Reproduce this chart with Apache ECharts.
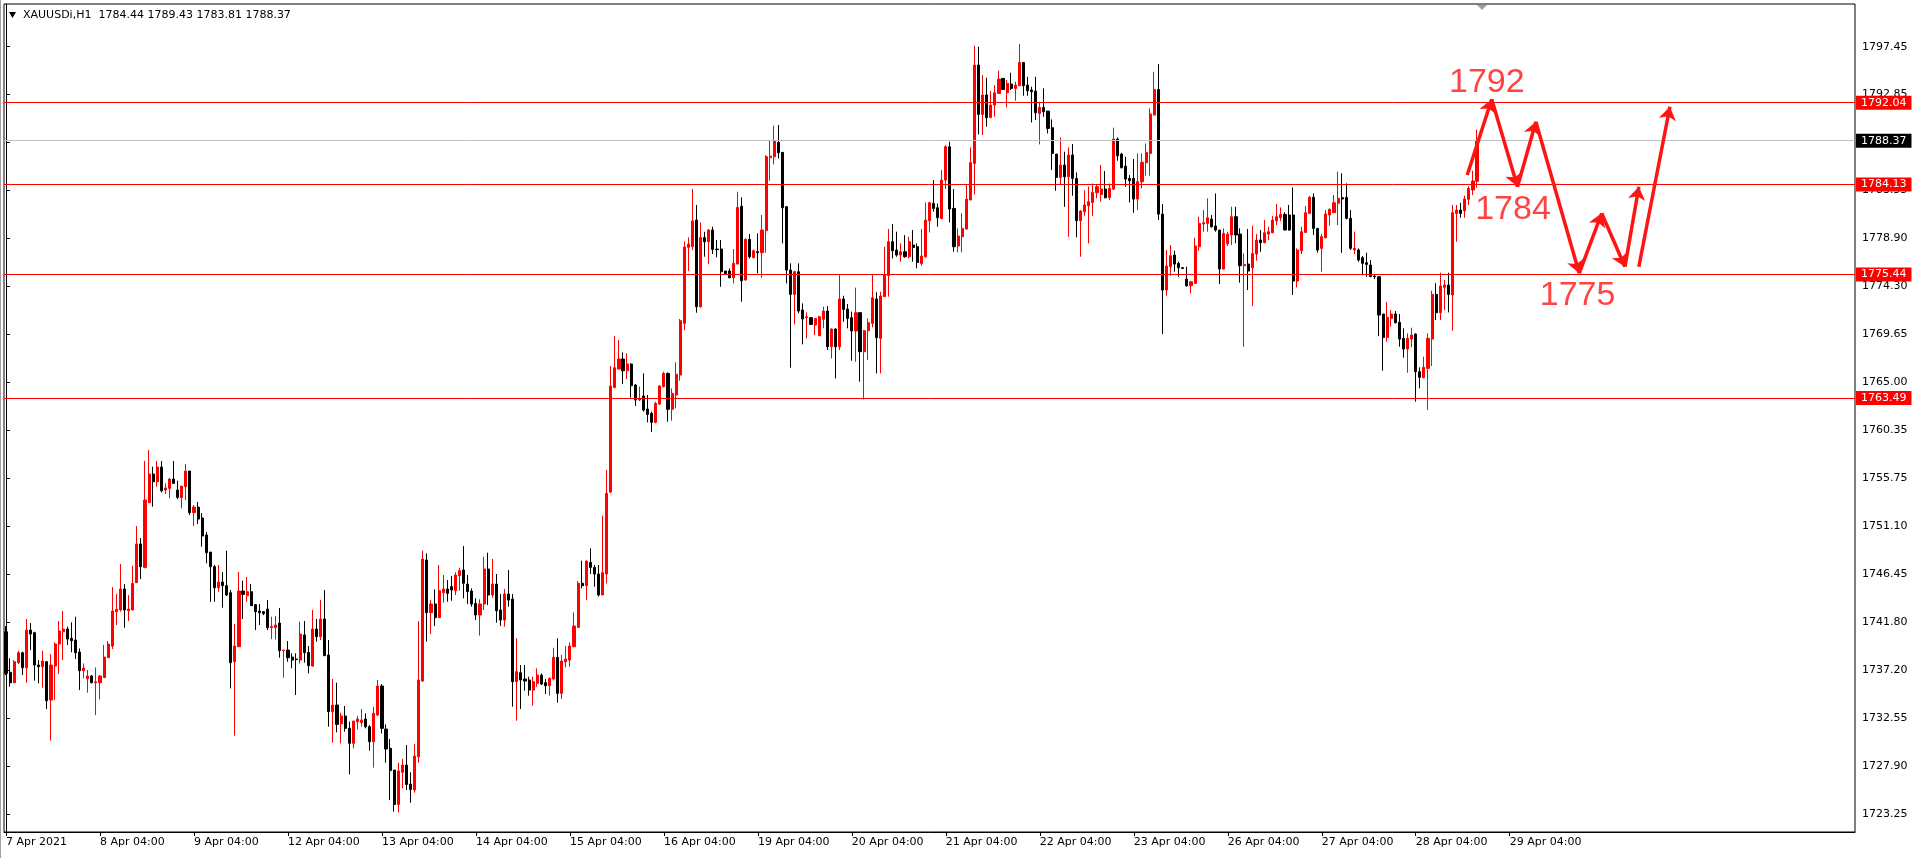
<!DOCTYPE html>
<html><head><meta charset="utf-8">
<script src="https://cdn.jsdelivr.net/npm/echarts@6/dist/echarts.min.js"></script>
<style>html,body{margin:0;padding:0;background:#fff;overflow:hidden}#c{width:1920px;height:858px}</style>
</head><body><div id="c"></div>
<script>
// ---- DATA ----
const symbolTitle = 'XAUUSDi,H1';
const tradingDays = ['7 Apr','8 Apr','9 Apr','12 Apr','13 Apr','14 Apr','15 Apr','16 Apr','19 Apr','20 Apr','21 Apr','22 Apr','23 Apr','26 Apr','27 Apr','28 Apr','29 Apr','30 Apr','3 May','4 May'];
const xTickLabels = ['7 Apr 2021','8 Apr 04:00','9 Apr 04:00','12 Apr 04:00','13 Apr 04:00','14 Apr 04:00','15 Apr 04:00','16 Apr 04:00','19 Apr 04:00','20 Apr 04:00','21 Apr 04:00','22 Apr 04:00','23 Apr 04:00','26 Apr 04:00','27 Apr 04:00','28 Apr 04:00','29 Apr 04:00'];
const yTickLabels = [1723.25,1727.90,1732.55,1737.20,1741.80,1746.45,1751.10,1755.75,1760.35,1765.00,1769.65,1774.30,1778.90,1783.55,1788.20,1792.85,1797.45];
const levelLines = [1792.04,1784.13,1775.44,1763.49];
const bidPrice = 1788.37;
const futureSlots = 92;
// [open, close, low, high]
const candlesA = [
[1740.90,1736.87,1736.71,1741.45],[1736.97,1735.97,1735.59,1738.33],[1735.97,1738.00,1735.97,1738.16],[1737.91,1738.87,1737.78,1739.07],
[1738.87,1737.42,1736.71,1738.97],[1737.42,1741.06,1735.97,1742.13],[1741.06,1740.68,1739.13,1741.74],[1740.81,1737.68,1736.17,1740.90],
[1737.68,1737.52,1735.91,1738.16],[1737.52,1738.07,1735.49,1739.07],[1738.00,1734.23,1733.43,1738.07],[1734.30,1737.68,1730.37,1738.74],
[1737.58,1739.71,1734.30,1739.87],[1739.71,1740.97,1736.81,1741.93],[1740.90,1741.16,1738.16,1742.90],[1741.16,1740.19,1739.61,1741.39],
[1740.26,1740.03,1738.91,1741.81],[1740.10,1738.87,1738.26,1742.35],[1738.94,1737.13,1735.26,1739.29],[1737.13,1737.39,1736.39,1737.84],
[1736.36,1736.62,1735.01,1737.20],[1736.62,1735.97,1735.91,1736.71],[1735.97,1736.07,1732.85,1737.45],[1735.97,1736.62,1734.36,1736.71],
[1736.46,1738.45,1736.46,1739.61],[1738.39,1739.71,1738.39,1740.00],[1739.52,1742.90,1739.23,1745.22],[1742.84,1743.06,1741.55,1744.54],
[1743.00,1745.03,1742.84,1747.44],[1745.03,1743.00,1741.29,1745.51],[1742.93,1743.09,1741.93,1744.45],[1743.00,1745.57,1743.00,1747.28],
[1745.64,1749.38,1745.64,1751.12],[1749.38,1747.19,1746.00,1749.96],[1747.12,1753.63,1747.03,1757.40],[1753.37,1756.14,1753.37,1758.46],
[1756.14,1755.40,1752.99,1756.85],[1755.40,1756.82,1754.92,1757.40],[1756.82,1754.53,1754.37,1757.40],[1754.60,1754.79,1754.21,1755.24],
[1754.76,1755.66,1753.79,1755.76],[1755.66,1755.24,1755.24,1757.40],[1754.60,1753.89,1753.73,1755.50],[1753.86,1754.98,1752.83,1754.98],
[1754.92,1756.43,1753.63,1757.11],[1756.43,1752.41,1752.18,1756.43],[1752.41,1752.95,1751.12,1753.15],[1752.95,1751.79,1751.31,1753.44],
[1751.89,1750.15,1749.12,1752.37],[1750.25,1748.54,1747.51,1750.54],[1748.60,1747.19,1743.80,1748.60],[1747.19,1745.16,1743.80,1747.35],
[1745.16,1745.70,1744.77,1747.35],[1745.70,1745.35,1743.22,1746.67],[1745.35,1744.45,1744.35,1748.73],[1744.67,1737.91,1735.42,1744.93],
[1738.00,1739.52,1730.85,1741.65],[1739.45,1744.83,1739.45,1746.67],[1744.83,1744.51,1742.13,1745.83],[1744.38,1744.77,1743.80,1746.19],
[1744.77,1743.42,1743.42,1745.51],[1743.51,1742.84,1741.06,1743.58],[1742.90,1742.74,1741.55,1743.58],[1742.84,1742.67,1742.51,1742.84],
[1743.09,1741.29,1741.06,1743.96],[1741.29,1741.39,1740.19,1742.35],[1741.29,1741.55,1740.16,1742.42],[1741.74,1739.07,1738.39,1743.19],
[1739.07,1739.13,1736.46,1739.13],[1739.13,1738.39,1738.00,1740.00],[1738.45,1738.16,1737.36,1738.81],[1738.26,1738.20,1734.78,1738.81]
];
const candlesB = [
[1738.16,1740.68,1737.84,1741.87],[1740.58,1738.87,1737.91,1741.93],[1738.90,1737.62,1736.87,1739.52],[1737.58,1741.16,1737.52,1743.00],
[1741.16,1740.42,1739.94,1742.13],[1740.42,1742.13,1740.10,1743.96],[1742.13,1738.58,1738.58,1744.93],[1738.65,1733.17,1731.72,1740.10],
[1733.17,1733.81,1730.17,1736.33],[1733.81,1731.94,1731.17,1735.97],[1732.01,1732.75,1730.11,1733.07],[1732.75,1731.56,1731.23,1733.72],
[1731.56,1730.11,1727.11,1732.20],[1730.11,1732.27,1729.63,1732.27],[1732.20,1732.46,1731.46,1732.78],[1732.11,1732.36,1731.72,1733.43],
[1732.46,1731.72,1731.56,1733.01],[1731.72,1730.27,1729.40,1731.88],[1730.27,1733.01,1727.76,1733.65],[1732.85,1735.65,1732.75,1736.23],
[1735.65,1731.56,1731.07,1735.84],[1731.49,1729.56,1728.24,1731.94],[1729.63,1727.47,1724.63,1730.53],[1727.53,1724.21,1723.50,1727.53],
[1724.21,1727.44,1723.41,1728.24],[1727.31,1728.01,1725.76,1728.59],[1728.01,1726.14,1725.60,1729.95],[1726.18,1725.66,1724.37,1727.31],
[1725.60,1728.88,1725.34,1730.04],[1728.82,1736.23,1728.24,1741.93],[1736.13,1747.93,1736.07,1748.73],[1747.83,1742.74,1739.94,1748.47],
[1742.74,1743.58,1740.68,1743.96],[1743.58,1742.26,1741.45,1744.99],[1742.26,1744.87,1742.26,1747.35],[1744.67,1745.03,1743.71,1746.38],
[1745.03,1744.61,1743.80,1745.90],[1745.26,1744.93,1743.90,1746.28],[1744.87,1746.38,1744.45,1746.64],[1746.32,1746.80,1744.87,1747.09],
[1746.86,1745.58,1744.13,1749.18],[1745.51,1744.77,1743.58,1746.38],[1744.83,1743.58,1743.32,1745.09],[1743.64,1742.51,1742.03,1744.13],
[1742.51,1743.58,1740.52,1744.03],[1743.58,1746.96,1743.00,1748.15],[1746.96,1744.45,1743.48,1748.54],[1744.45,1745.51,1744.19,1747.93],
[1745.51,1742.93,1741.77,1746.48],[1743.00,1742.03,1741.45,1744.54],[1742.03,1744.54,1741.39,1745.03],[1744.54,1743.96,1743.32,1746.86],
[1744.06,1736.07,1733.65,1744.54],[1736.07,1737.04,1732.30,1740.26],[1736.94,1736.23,1733.43,1737.68],[1736.33,1736.13,1735.20,1737.68],
[1736.23,1735.26,1734.72,1736.55],[1735.26,1736.07,1733.75,1736.55],[1735.91,1736.71,1735.59,1737.36],[1736.71,1735.84,1735.75,1736.87],
[1735.97,1735.68,1734.88,1736.33],[1735.68,1736.39,1734.72,1736.49],[1736.33,1738.42,1736.17,1739.35],[1738.42,1734.94,1734.04,1740.26],
[1734.94,1738.07,1734.39,1738.65],[1738.00,1738.26,1737.46,1739.52],[1738.16,1739.52,1737.52,1739.87],[1739.45,1741.45,1739.45,1742.77],
[1741.32,1745.58,1741.32,1745.80],[1745.58,1745.35,1745.09,1747.77],[1745.35,1747.73,1743.96,1747.77],[1747.60,1747.12,1746.48,1748.96],
[1747.12,1746.48,1745.25,1747.35],[1746.48,1744.45,1744.29,1747.35],[1744.45,1746.61,1744.45,1752.12],[1746.48,1754.27,1745.57,1756.53]
];
const candlesC = [
[1754.40,1764.65,1754.30,1766.58],[1764.52,1766.42,1764.42,1769.48],[1766.29,1767.26,1766.26,1769.09],[1767.26,1766.13,1764.84,1767.90],
[1766.13,1766.78,1765.33,1767.81],[1766.78,1764.68,1763.52,1766.84],[1764.75,1763.30,1762.72,1764.84],[1763.30,1763.46,1763.20,1764.59],
[1763.68,1762.33,1762.17,1765.87],[1762.43,1761.91,1761.14,1763.78],[1762.01,1761.14,1760.20,1762.17],[1761.14,1762.97,1761.04,1763.13],
[1762.91,1764.65,1762.81,1764.75],[1764.59,1765.87,1764.52,1766.03],[1765.87,1762.40,1761.20,1765.97],[1762.40,1763.94,1761.30,1764.42],
[1763.78,1765.78,1762.49,1766.94],[1765.71,1770.97,1765.17,1771.13],[1770.71,1778.09,1770.06,1778.60],[1778.06,1778.38,1775.77,1779.02],
[1778.12,1780.60,1777.80,1783.69],[1780.70,1772.32,1771.74,1782.15],[1772.32,1779.00,1772.22,1780.47],[1779.00,1778.60,1777.15,1779.57],
[1778.60,1779.73,1776.44,1779.83],[1779.73,1777.86,1777.41,1780.05],[1777.89,1777.83,1777.09,1778.76],[1777.89,1775.70,1774.25,1778.76],
[1775.77,1775.54,1775.48,1775.77],[1775.77,1775.12,1775.06,1776.02],[1775.12,1776.51,1774.57,1777.89],[1776.44,1781.92,1776.44,1783.44],
[1782.02,1774.83,1772.80,1782.89],[1774.90,1778.83,1774.83,1778.93],[1778.83,1777.15,1776.99,1779.34],[1777.06,1777.73,1776.99,1777.86],
[1777.64,1777.54,1775.54,1779.41],[1777.54,1779.73,1775.12,1781.18],[1779.67,1786.82,1777.54,1786.98],[1786.72,1786.88,1784.50,1788.43],
[1786.82,1788.33,1786.08,1789.82],[1788.20,1787.21,1786.66,1789.88],[1787.24,1781.89,1778.44,1787.24],[1781.99,1775.86,1774.57,1781.99],
[1775.86,1773.51,1766.42,1776.51],[1773.51,1775.70,1770.61,1775.80],[1775.70,1771.90,1771.67,1776.51],[1772.00,1771.13,1768.68,1772.64],
[1771.26,1771.35,1769.26,1771.77],[1771.26,1770.61,1770.55,1771.26],[1770.55,1771.19,1769.58,1771.19],[1769.51,1771.35,1769.48,1771.45],
[1771.10,1771.90,1770.23,1772.32],[1771.90,1768.45,1768.13,1772.38],[1768.45,1770.16,1767.32,1770.23],[1770.16,1768.45,1765.39,1770.23],
[1768.45,1773.06,1768.13,1775.48],[1773.06,1772.06,1770.87,1773.38],[1772.09,1771.19,1770.23,1772.58],[1771.26,1769.97,1767.10,1771.84],
[1769.97,1771.74,1767.00,1774.16],[1771.74,1767.97,1765.07,1771.77],[1767.97,1770.00,1763.36,1770.06],[1770.00,1770.77,1767.16,1771.19],
[1770.71,1773.19,1770.32,1775.48],[1773.06,1769.32,1765.87,1773.71],[1769.26,1773.35,1765.87,1773.77],[1773.29,1775.44,1773.29,1778.12],
[1775.32,1778.60,1773.29,1779.83],[1778.60,1777.73,1776.99,1780.31],[1777.80,1777.31,1777.15,1779.57]
];
const candlesD = [
[1777.31,1777.63,1776.67,1778.44],[1777.63,1777.15,1777.05,1779.24],[1777.15,1778.60,1776.99,1779.08],[1778.28,1778.05,1776.67,1779.73],
[1778.12,1776.60,1776.02,1778.44],[1776.50,1777.21,1776.28,1779.82],[1777.15,1780.69,1777.05,1782.40],[1780.63,1782.37,1779.50,1782.47],
[1782.30,1781.82,1781.50,1784.56],[1781.88,1780.92,1780.05,1782.30],[1780.85,1784.56,1780.76,1785.53],[1784.56,1787.78,1783.69,1787.94],
[1787.78,1781.76,1780.47,1788.27],[1781.82,1778.12,1777.63,1783.69],[1778.18,1779.15,1777.57,1779.89],[1779.08,1779.89,1777.57,1781.34],
[1779.82,1782.72,1779.82,1784.08],[1782.63,1786.24,1782.63,1787.72],[1786.17,1795.68,1783.17,1797.55],[1795.68,1790.91,1788.97,1797.45],
[1790.91,1792.78,1788.91,1794.71],[1792.78,1790.59,1789.72,1794.45],[1790.62,1791.81,1790.52,1793.16],[1791.81,1793.00,1790.68,1793.74],
[1792.94,1794.32,1792.94,1795.13],[1794.39,1793.32,1793.26,1794.39],[1793.00,1793.90,1791.58,1794.23],[1793.84,1793.42,1793.26,1794.94],
[1793.42,1793.74,1792.23,1794.07],[1793.68,1795.93,1793.68,1797.71],[1795.93,1793.68,1792.71,1795.93],[1793.74,1793.19,1792.71,1794.55],
[1793.26,1793.10,1790.13,1793.58],[1793.16,1791.07,1790.36,1794.55],[1791.00,1791.58,1788.01,1792.13],[1791.58,1791.17,1790.68,1793.42],
[1791.23,1789.55,1789.07,1791.23],[1789.62,1787.14,1785.53,1790.42],[1787.07,1784.82,1783.53,1787.07],[1784.82,1786.01,1784.08,1788.68],
[1786.01,1784.88,1781.98,1787.30],[1784.88,1786.98,1779.08,1787.72],[1786.98,1784.72,1783.05,1788.04],[1784.72,1780.63,1779.02,1785.30],
[1780.63,1781.56,1777.15,1781.66],[1781.50,1782.15,1781.11,1783.59],[1782.08,1782.47,1778.44,1783.92],[1782.40,1783.37,1781.11,1784.24],
[1783.34,1783.92,1782.79,1784.14],[1783.17,1783.69,1782.47,1786.01],[1783.69,1782.85,1782.79,1785.43],[1782.88,1783.76,1782.63,1784.24],
[1783.69,1788.52,1783.59,1789.62],[1788.52,1786.91,1786.43,1788.68],[1787.07,1785.75,1785.69,1787.20],[1785.91,1784.66,1783.92,1786.81],
[1784.72,1784.50,1782.40,1785.04],[1784.72,1782.72,1781.40,1786.59],[1782.72,1784.40,1781.66,1787.14],[1784.40,1786.27,1783.76,1787.14],
[1786.24,1787.23,1784.98,1788.10],[1787.14,1790.94,1784.98,1791.49],[1790.84,1793.32,1790.84,1795.03],[1793.32,1781.27,1780.69,1795.77],
[1781.27,1773.93,1769.67,1782.24],[1773.93,1776.25,1773.38,1777.79],[1776.18,1777.25,1775.31,1778.28],[1777.31,1776.44,1775.70,1777.73],
[1776.50,1776.09,1775.22,1776.67],[1776.09,1776.02,1775.95,1776.12],[1774.99,1774.34,1774.25,1776.18],[1774.34,1774.73,1773.60,1774.73],
[1774.57,1778.18,1774.57,1778.99]
];
const candlesE = [
[1778.12,1780.37,1777.73,1781.02],[1780.31,1780.44,1779.57,1781.66],[1780.37,1780.92,1779.57,1782.79],[1780.79,1780.05,1779.96,1781.18],
[1780.12,1779.73,1779.57,1783.27],[1779.73,1775.96,1774.51,1779.73],[1775.96,1779.41,1775.93,1779.89],[1778.40,1779.34,1778.18,1779.57],
[1779.25,1781.02,1778.28,1781.98],[1781.02,1779.25,1778.44,1781.98],[1779.34,1776.28,1774.64,1779.89],[1776.28,1776.41,1768.45,1777.47],
[1776.44,1775.77,1773.93,1779.83],[1776.09,1777.47,1772.38,1780.15],[1777.41,1778.76,1776.77,1779.34],[1778.76,1778.51,1777.63,1779.73],
[1778.51,1779.47,1778.44,1780.69],[1779.34,1779.57,1778.76,1780.05],[1779.47,1780.69,1779.41,1781.08],[1780.63,1781.02,1780.21,1782.24],
[1780.92,1781.24,1780.60,1781.92],[1781.24,1779.73,1779.73,1781.44],[1781.18,1779.73,1779.67,1782.15],[1781.18,1774.80,1773.45,1783.85],
[1774.80,1777.79,1774.19,1777.96],[1777.73,1779.57,1777.41,1780.05],[1779.50,1781.40,1779.47,1782.05],[1781.34,1782.89,1781.28,1783.02],
[1782.89,1779.89,1779.25,1783.27],[1779.89,1777.80,1777.54,1779.89],[1777.96,1779.09,1775.70,1779.34],[1778.99,1781.28,1778.93,1781.66],
[1781.18,1781.73,1780.15,1781.82],[1781.41,1782.37,1781.41,1783.11],[1782.31,1782.79,1780.21,1785.37],[1782.86,1782.73,1777.54,1785.21],
[1782.89,1780.86,1780.76,1784.24],[1780.86,1777.96,1777.80,1781.66],[1777.80,1777.96,1777.41,1779.57],[1777.80,1776.83,1776.67,1777.96],
[1777.05,1776.51,1775.38,1777.22],[1776.57,1776.41,1775.22,1777.54],[1776.35,1775.22,1775.22,1776.83],[1775.28,1775.22,1774.99,1775.38],
[1775.22,1771.51,1769.48,1775.22],[1771.61,1769.35,1766.13,1771.61],[1769.35,1771.29,1768.94,1772.80],[1771.19,1771.61,1770.39,1772.00],
[1771.61,1770.77,1770.71,1771.90],[1770.80,1769.19,1768.45,1771.61],[1769.26,1768.23,1767.39,1770.23],[1768.23,1769.26,1765.94,1769.74],
[1769.19,1769.58,1768.39,1770.29],[1769.68,1766.04,1763.14,1769.74],[1766.04,1765.49,1764.42,1766.46],[1765.46,1766.46,1765.39,1767.49],
[1766.36,1769.26,1762.33,1769.74],[1769.19,1773.51,1766.58,1773.87],[1773.51,1771.74,1771.03,1774.58],[1771.74,1774.32,1771.03,1775.61],
[1774.19,1774.41,1771.99,1774.90],[1774.41,1773.51,1771.77,1775.61],[1773.45,1781.41,1770.00,1782.15],[1781.34,1781.66,1778.60,1782.15],
[1781.66,1781.34,1780.92,1782.37],[1781.60,1782.73,1780.92,1783.05],[1782.70,1783.76,1782.15,1783.98],[1783.60,1784.47,1783.11,1785.47],
[1784.44,1788.37,1783.81,1789.43]
];
// hand-drawn forecast arrows: [bar position, price]
const forecastPath1 = [[357.6,1785.05],[363.6,1792.37],[369.9,1783.92],[374.4,1790.20],[385.0,1775.55],[390.5,1781.35],[396.2,1776.18],[399.6,1783.92]];
const forecastPath2 = [[399.6,1776.18],[407.2,1791.65]];
const forecastLabels = [[362.4,1793.99,'1792'],[368.8,1781.71,'1784'],[384.6,1773.40,'1775']];

// ---- BUILD ----
const candles = [].concat(candlesA, candlesB, candlesC, candlesD, candlesE);
const totalSlots = candles.length + futureSlots;
const categories = [];
for (let k = 0; k < totalSlots; k++) {
  const a = k + 3, d = Math.floor(a / 23), h = a % 23 + 1;
  categories.push(tradingDays[d] + ' ' + (h < 10 ? '0' + h : h) + ':00');
}
const last = candles[candles.length - 1];
const isTick = (i) => i % 23 === 0 && i / 23 < xTickLabels.length;
const segs = [];
[forecastPath1, forecastPath2].forEach(p => { for (let i = 0; i < p.length - 1; i++) segs.push({coords: [p[i], p[i + 1]]}); });

const F = 'DejaVu Sans';
const lvlLabel = (bg) => ({show: true, position: 'end', distance: 1, formatter: p => p.value.toFixed(2), backgroundColor: bg, color: '#fff', padding: [2, 5, 1, 5], fontFamily: F, fontSize: 11, lineHeight: 11});
const markData = levelLines.map(v => ({yAxis: v, lineStyle: {color: '#ff0000', width: 1, type: 'solid'}, label: lvlLabel('#ff0000')}));
markData.push({yAxis: bidPrice, lineStyle: {color: '#c0c0c0', width: 1, type: 'solid'}, label: lvlLabel('#000000')});

const chart = echarts.init(document.getElementById('c'), null, {renderer: 'canvas'});
chart.setOption({
  animation: false,
  backgroundColor: '#ffffff',
  grid: {left: 4, right: 65, top: 4, bottom: 26, show: true, borderColor: '#000', borderWidth: 1, backgroundColor: '#fff'},
  xAxis: [{
    type: 'category', data: categories, boundaryGap: true,
    axisLine: {show: true, lineStyle: {color: '#000'}},
    axisTick: {show: true, alignWithLabel: true, length: 4, interval: (i) => isTick(i), lineStyle: {color: '#000'}},
    axisLabel: {show: true, interval: (i) => isTick(i), formatter: (v, i) => xTickLabels[i / 23], align: 'left', margin: 5, color: '#000', fontFamily: F, fontSize: 11},
    splitLine: {show: false}
  }, {
    type: 'value', min: -0.5, max: totalSlots - 0.5, show: false
  }],
  yAxis: {
    type: 'value', position: 'right', min: 1721.54, max: 1801.58, scale: true,
    axisLine: {show: true, lineStyle: {color: '#000'}},
    axisTick: {show: true, length: 4, customValues: yTickLabels, lineStyle: {color: '#000'}},
    axisLabel: {show: true, customValues: yTickLabels, formatter: v => v.toFixed(2), margin: 7, color: '#000', fontFamily: F, fontSize: 11},
    splitLine: {show: false}
  },
  series: [{
    type: 'candlestick', data: candles, barWidth: 2.6, silent: true,
    itemStyle: {color: '#ff0000', color0: '#000000', borderColor: '#ff0000', borderColor0: '#000000', borderWidth: 1},
    markLine: {symbol: ['none', 'none'], silent: true, animation: false, data: markData}
  }, {
    type: 'lines', coordinateSystem: 'cartesian2d', xAxisIndex: 1, yAxisIndex: 0, silent: true,
    symbol: ['none', 'arrow'], symbolSize: 13,
    lineStyle: {color: '#ff1414', width: 3.5, opacity: 1, curveness: 0},
    data: segs, z: 5
  }, {
    type: 'scatter', xAxisIndex: 1, yAxisIndex: 0, symbolSize: 0, silent: true,
    data: forecastLabels,
    label: {show: true, position: 'inside', formatter: p => p.value[2], color: '#ff1414', fontSize: 34, fontFamily: 'Liberation Sans'},
    z: 6
  }],
  graphic: [
    {type: 'polygon', shape: {points: [[9, 12], [16, 12], [12.5, 18]]}, style: {fill: '#000'}, z: 10},
    {type: 'text', x: 23, y: 15, style: {text: symbolTitle + '  ' + [last[0], last[3], last[2], last[1]].map(v => v.toFixed(2)).join(' '), font: '11px "DejaVu Sans"', fill: '#000', verticalAlign: 'middle'}, z: 10},
    {type: 'polygon', shape: {points: [[1477, 5], [1487, 5], [1482, 10]]}, style: {fill: '#a0a0a0'}, z: 10},
    {type: 'line', shape: {x1: 0.5, y1: 0, x2: 0.5, y2: 858}, style: {stroke: '#a0a0a0', lineWidth: 1}, z: 10}
  ]
});
</script>
</body></html>
